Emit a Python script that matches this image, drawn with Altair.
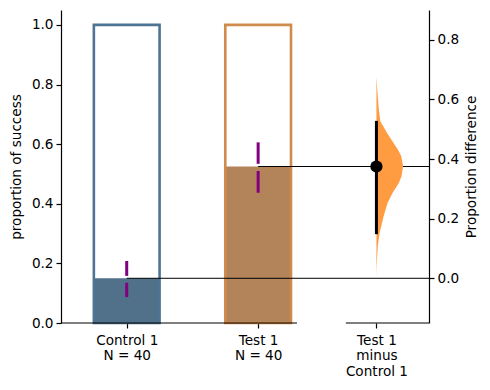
import altair as alt
import pandas as pd

# ---- data ----
groups = ["Control 1", "Test 1"]
group_n = [40, 40]
group_pos = [0, 1]
proportions = [0.15, 0.525]
err_low = [0.087, 0.437]
gap_low = [0.135, 0.510]
gap_high = [0.158, 0.534]
err_high = [0.208, 0.606]
outline_colors = ["#4e7494", "#cf8b4b"]
fill_colors = ["#51718a", "#b3845a"]

delta_lines = ["Test 1", "minus", "Control 1"]
delta_pos = 1.9
delta_value = 0.375
delta_ci = [0.148, 0.528]
violin_y = [0.677, 0.621, 0.565, 0.526, 0.487, 0.454, 0.431, 0.409, 0.376,
            0.342, 0.320, 0.287, 0.253, 0.208, 0.153, 0.108, 0.041, 0.008]
violin_density = [0.0, 0.04, 0.09, 0.15, 0.40, 0.64, 0.81, 0.93, 1.0,
                  0.94, 0.84, 0.61, 0.42, 0.27, 0.12, 0.05, 0.01, 0.0]

left_ticks = [0.0, 0.2, 0.4, 0.6, 0.8, 1.0]
right_ticks = [0.0, 0.2, 0.4, 0.6, 0.8]
x_min, x_max = -0.5, 2.3
y_max = 1.05
bar_half = 0.25
violin_scale = 0.203
left_spine = [-0.5, 1.296]
right_spine = [1.667, 2.3]

FONT = "DejaVu Sans"
FS = 13.6

# ---- tables ----
bars = pd.DataFrame({
    "group": groups,
    "x0": [p - bar_half for p in group_pos],
    "x1": [p + bar_half for p in group_pos],
    "prop": proportions,
    "full": [1.0] * len(groups),
    "outline": outline_colors,
    "fill": fill_colors,
})
segs = pd.DataFrame({
    "x": group_pos + group_pos,
    "y0": err_low + gap_high,
    "y1": gap_low + err_high,
})
hlines = pd.DataFrame({
    "x0": group_pos,
    "x1": [x_max] * len(groups),
    "y": proportions,
})
spines = pd.DataFrame({
    "x0": [left_spine[0], right_spine[0]],
    "x1": [left_spine[1], right_spine[1]],
    "y": [0.0, 0.0],
})
violin = pd.DataFrame({
    "d": violin_y,
    "x0": [delta_pos] * len(violin_y),
    "x1": [delta_pos + v * violin_scale for v in violin_density],
})
effect = pd.DataFrame({
    "x": [delta_pos],
    "d": [delta_value],
    "lo": [delta_ci[0]],
    "hi": [delta_ci[1]],
})

# ---- scales & axes ----
label_map = {p: [g, f"N = {n}"] for p, g, n in zip(group_pos, groups, group_n)}
label_map[delta_pos] = delta_lines


def arr(lst):
    return "[" + ", ".join("'" + s + "'" for s in lst) + "]"


expr = ""
for p, lines in label_map.items():
    expr += f"abs(datum.value - {p}) < 0.01 ? {arr(lines)} : "
expr += "''"

x_scale = alt.Scale(domain=[x_min, x_max], nice=False, zero=False)
x_axis = alt.Axis(values=group_pos + [delta_pos], labelExpr=expr, title=None,
                  domain=False, tickSize=5, labelPadding=5, labelLineHeight=15.5,
                  labelBaseline="top", labelAngle=0)
ly_scale = alt.Scale(domain=[0, y_max], nice=False, zero=False)
ly_axis = alt.Axis(values=left_ticks, format=".1f", title="proportion of success",
                   titlePadding=8, tickSize=5, labelPadding=3)
off = proportions[0]
ry_scale = alt.Scale(domain=[0 - off, y_max - off], nice=False, zero=False)
ry_axis = alt.Axis(values=right_ticks, format=".1f", title="Proportion difference",
                   orient="right", titleAngle=-90, titleBaseline="top",
                   titlePadding=6, tickSize=5, labelPadding=3)

X = lambda f: alt.X(f, type="quantitative", scale=x_scale, axis=x_axis)
X2 = lambda f: alt.X2(f)
YL = lambda f: alt.Y(f, type="quantitative", scale=ly_scale, axis=ly_axis)
YR = lambda f: alt.Y(f, type="quantitative", scale=ry_scale, axis=ry_axis)

fill_layer = alt.Chart(bars).mark_rect(strokeWidth=0).encode(
    x=X("x0"), x2=X2("x1"), y=YL("prop"), y2=alt.Y2(datum=0),
    fill=alt.Fill("fill:N", scale=None),
)
outline_layer = alt.Chart(bars).mark_rect(fillOpacity=0, strokeWidth=2.6).encode(
    x=X("x0"), x2=X2("x1"), y=YL("full"), y2=alt.Y2(datum=0),
    stroke=alt.Stroke("outline:N", scale=None),
)
seg_layer = alt.Chart(segs).mark_rule(color="#800080", strokeWidth=3).encode(
    x=X("x"), y=YL("y0"), y2=alt.Y2("y1"),
)
hline_layer = alt.Chart(hlines).mark_rule(color="black", strokeWidth=1).encode(
    x=X("x0"), x2=X2("x1"), y=YL("y"),
)
spine_layer = alt.Chart(spines).mark_rule(color="black", strokeWidth=1.2).encode(
    x=X("x0"), x2=X2("x1"), y=YL("y"),
)
left = alt.layer(fill_layer, outline_layer, hline_layer, seg_layer, spine_layer)

violin_layer = alt.Chart(violin).mark_area(orient="horizontal", color="#ff9c42",
                                           opacity=1).encode(
    y=YR("d"),
    x=alt.X("x1", type="quantitative", scale=x_scale, axis=x_axis, stack=None),
    x2=X2("x0"),
)
ci_layer = alt.Chart(effect).mark_rule(color="black", strokeWidth=3).encode(
    x=X("x"), y=YR("lo"), y2=alt.Y2("hi"),
)
pt_layer = alt.Chart(effect).mark_circle(color="black", size=150, opacity=1).encode(
    x=X("x"), y=YR("d"),
)
right = alt.layer(violin_layer, ci_layer, pt_layer)

chart = alt.layer(left, right).resolve_scale(y="independent").properties(
    width=368, height=313,
    padding={"left": 53, "top": 2, "right": 53, "bottom": 59},
    autosize=alt.AutoSizeParams(type="none"),
).configure_view(stroke=None).configure_axis(
    labelFont=FONT, titleFont=FONT, labelFontSize=FS, titleFontSize=FS,
    titleFontWeight="normal", labelColor="black", titleColor="black",
    domainColor="black", tickColor="black", grid=False, domainWidth=1.2, tickWidth=1.2,
)

chart.save("out.html", embed_options={"renderer": "svg", "actions": False})
